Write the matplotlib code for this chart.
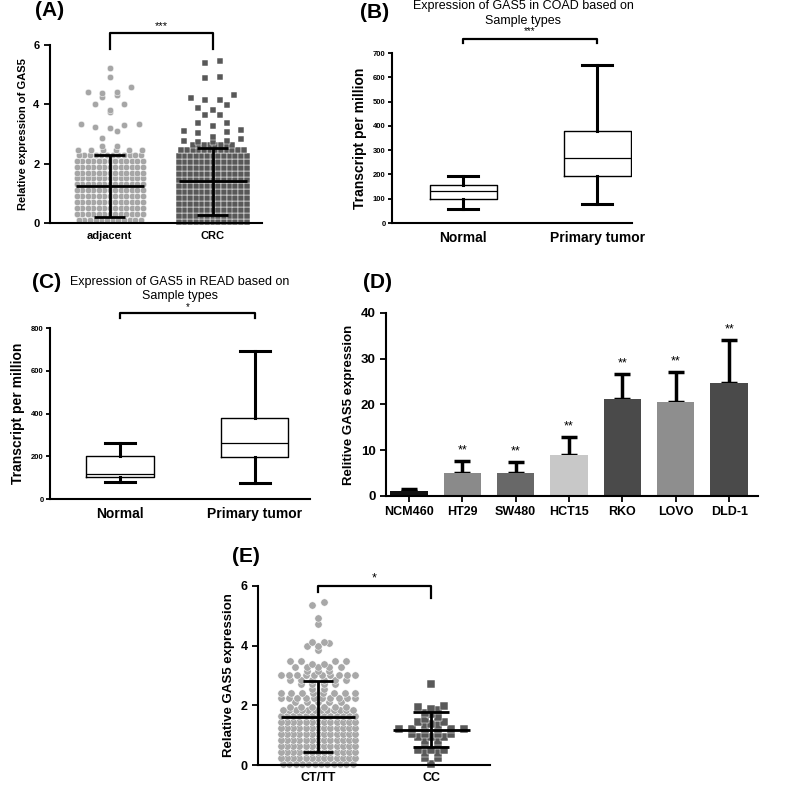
import matplotlib

matplotlib.use("Agg")

import matplotlib.pyplot as plt
import numpy as np

plt.rcParams["font.family"] = ["Liberation Sans", "DejaVu Sans"]

FIG_W, FIG_H = 800, 802

# ---- panel A: relative GAS5 expression, adjacent vs CRC ----
A_GROUPS = ["adjacent", "CRC"]
ADJ_BAND_LEVELS = [0.1, 0.3, 0.5, 0.7, 0.9, 1.1, 1.3, 1.5, 1.7, 1.9, 2.1, 2.3]
ADJ_BAND_COUNTS = [12, 13, 13, 13, 13, 13, 13, 13, 13, 13, 13, 12]
ADJ_SPARSE = [2.45, 2.45, 2.45, 2.45, 2.45, 2.45, 2.6, 2.6, 2.85, 3.1, 3.2, 3.25,
              3.3, 3.35, 3.35, 3.73, 3.8, 4.0, 4.0, 4.25, 4.3, 4.38, 4.4, 4.42,
              4.58, 4.93, 5.22]
CRC_BAND_LEVELS = [0.05, 0.25, 0.45, 0.65, 0.85, 1.05, 1.25, 1.45, 1.65, 1.85,
                   2.05, 2.25, 2.45, 2.62]
CRC_BAND_COUNTS = [13, 13, 13, 13, 13, 13, 13, 13, 13, 13, 13, 13, 12, 8]
CRC_SPARSE = [2.72, 2.72, 2.78, 2.78, 2.82, 2.9, 3.05, 3.08, 3.1, 3.13, 3.27,
              3.37, 3.37, 3.63, 3.65, 3.8, 3.87, 3.98, 4.13, 4.15, 4.22, 4.33,
              4.9, 4.93, 5.38, 5.47]
A_MEAN = [1.25, 1.40]
A_SD_LOW = [0.20, 0.27]
A_SD_HIGH = [2.30, 2.53]

# ---- panel B / C: TPM box plots ----
BOX_GROUPS = ["Normal", "Primary tumor"]
COAD_WHISLO = [58, 80]
COAD_Q1 = [100, 193]
COAD_MED = [132, 267]
COAD_Q3 = [157, 377]
COAD_WHISHI = [192, 652]
READ_WHISLO = [80, 77]
READ_Q1 = [101, 195]
READ_MED = [116, 264]
READ_Q3 = [199, 381]
READ_WHISHI = [261, 692]

# ---- panel D: cell lines ----
CELL_LINES = ["NCM460", "HT29", "SW480", "HCT15", "RKO", "LOVO", "DLD-1"]
CELL_MEAN = [1.0, 5.1, 5.0, 9.0, 21.3, 20.6, 24.6]
CELL_ERR = [0.6, 2.5, 2.4, 3.9, 5.3, 6.4, 9.6]
CELL_SIG = ["", "**", "**", "**", "**", "**", "**"]
CELL_COLORS = ["#111111", "#8a8a8a", "#686868", "#c8c8c8", "#4a4a4a", "#8e8e8e", "#4a4a4a"]

# ---- panel E: genotype ----
E_GROUPS = ["CT/TT", "CC"]
CTTT_BAND_LEVELS = [0.05, 0.25, 0.45, 0.65, 0.85, 1.05, 1.25, 1.45, 1.65, 1.85]
CTTT_BAND_COUNTS = [12, 13, 13, 13, 13, 13, 13, 13, 13, 12]
CTTT_SPARSE = [1.95, 1.95, 1.95, 1.95, 1.95, 1.95, 2.1, 2.1, 2.1, 2.1, 2.1,
               2.25, 2.25, 2.25, 2.25, 2.25, 2.25, 2.25, 2.25, 2.25, 2.25,
               2.4, 2.4, 2.4, 2.4, 2.4, 2.4, 2.4, 2.4, 2.55, 2.55,
               2.7, 2.7, 2.7, 2.7, 2.85, 2.85, 2.85, 2.85, 2.85, 2.85,
               3.02, 3.02, 3.02, 3.02, 3.02, 3.02, 3.02, 3.02, 3.02, 3.02,
               3.15, 3.15, 3.15, 3.3, 3.3, 3.3, 3.3, 3.3, 3.4, 3.4, 3.5, 3.5,
               3.5, 3.5, 3.87, 4.0, 4.0, 4.1, 4.13, 4.13, 4.73, 4.93, 5.37, 5.47]
CC_VALUES = [0.05, 0.25, 0.25, 0.4, 0.4, 0.5, 0.5, 0.5, 0.7, 0.7, 0.8, 0.8,
             0.95, 0.95, 0.95, 1.05, 1.05, 1.05, 1.05, 1.2, 1.2, 1.2, 1.2, 1.2,
             1.2, 1.35, 1.35, 1.38, 1.43, 1.45, 1.55, 1.6, 1.72, 1.75, 1.85,
             1.88, 1.95, 1.97, 2.7]
E_MEAN = [1.62, 1.18]
E_SD_LOW = [0.44, 0.61]
E_SD_HIGH = [2.80, 1.77]


def rect(left, top, right, bottom):
    return [left / FIG_W, 1 - bottom / FIG_H, (right - left) / FIG_W, (bottom - top) / FIG_H]


def prism_axes(fig, r, xlim, ylim):
    ax = fig.add_axes(rect(*r))
    ax.set_xlim(*xlim)
    ax.set_ylim(*ylim)
    for side in ("top", "right"):
        ax.spines[side].set_visible(False)
    for side in ("left", "bottom"):
        ax.spines[side].set_linewidth(1.5)
    ax.tick_params(direction="out", width=1.3, length=4)
    return ax


def swarm(ax, center, values, dx, bin_h, half, **kw):
    # rows of points grouped by value, spread symmetrically, never wider than +-half
    values = np.sort(np.asarray(values, dtype=float))
    bins = np.round(values / bin_h).astype(int)
    xs = np.zeros_like(values)
    for b in np.unique(bins):
        idx = np.where(bins == b)[0]
        n = len(idx)
        step = dx if n < 2 else min(dx, 2 * half / (n - 1))
        offs = (np.arange(n) - (n - 1) / 2) * step
        order = np.argsort(np.abs(offs), kind="stable")
        xs[idx] = center + offs[order]
    ax.scatter(xs, values, clip_on=False, edgecolors="white", linewidths=0.35,
               zorder=2, **kw)


def mean_sd(ax, pos, mean, low, high, half, cap):
    ax.hlines(mean, pos - half, pos + half, color="black", lw=2, zorder=3)
    ax.vlines(pos, low, high, color="black", lw=2, zorder=3)
    ax.hlines([low, high], pos - cap, pos + cap, color="black", lw=2, zorder=3)


def bracket(ax, x0, x1, y, yl, yr, label, ty, fs=8):
    ax.plot([x0, x0, x1, x1], [yl, y, y, yr], color="black", lw=1.6, clip_on=False)
    ax.text((x0 + x1) / 2, ty, label, ha="center", va="center", fontsize=fs, clip_on=False)


fig = plt.figure(figsize=(8, 8.02), dpi=100)

# Panel A
ax = prism_axes(fig, (50, 45, 262, 223), (-0.58, 1.48), (0, 6))
swarm(ax, 0, np.repeat(ADJ_BAND_LEVELS, ADJ_BAND_COUNTS), 0.055, 0.15, 0.32,
      s=22, marker="o", color="#a6a6a6")
swarm(ax, 0, ADJ_SPARSE, 0.14, 0.3, 0.31, s=22, marker="o", color="#a6a6a6")
swarm(ax, 1, np.repeat(CRC_BAND_LEVELS, CRC_BAND_COUNTS), 0.055, 0.15, 0.33,
      s=20, marker="s", color="#585858")
swarm(ax, 1, CRC_SPARSE, 0.14, 0.3, 0.33, s=20, marker="s", color="#585858")
for i in range(2):
    mean_sd(ax, i, A_MEAN[i], A_SD_LOW[i], A_SD_HIGH[i], 0.33, 0.15)
ax.set_xticks([0, 1], A_GROUPS, fontsize=8, fontweight="bold")
ax.set_yticks([0, 2, 4, 6])
ax.tick_params(axis="x", length=0, pad=6)
ax.tick_params(axis="y", labelsize=8)
for t in ax.get_yticklabels():
    t.set_fontweight("bold")
ax.set_ylabel("Relative expression of GAS5", fontsize=8, fontweight="bold")
bracket(ax, 0, 1, 6.4, 5.87, 5.87, "***", 6.65)


# Panels B and C
def box_panel(r, xlim, ylim, yticks, whislo, q1, med, q3, whishi, sig, by, byl, sy):
    ax = prism_axes(fig, r, xlim, ylim)
    stats = [dict(whislo=whislo[i], q1=q1[i], med=med[i], q3=q3[i], whishi=whishi[i])
             for i in range(2)]
    ax.bxp(stats, positions=[0, 1], widths=0.5, showfliers=False,
           boxprops=dict(lw=1.0), medianprops=dict(color="black", lw=0.9),
           whiskerprops=dict(lw=2.2), capprops=dict(lw=2.2), capwidths=0.22)
    ax.set_xticks([0, 1], BOX_GROUPS, fontsize=10, fontweight="bold")
    ax.set_yticks(yticks)
    ax.tick_params(axis="x", length=0, pad=6)
    ax.tick_params(axis="y", labelsize=5.5, length=3, pad=1.5)
    for t in ax.get_yticklabels():
        t.set_fontweight("bold")
    ax.set_ylabel("Transcript per million", fontsize=10, fontweight="bold")
    bracket(ax, 0, 1, by, byl, byl, sig, sy, fs=7)
    return ax


ax = box_panel((392, 53, 632, 223), (-0.53, 1.26), (0, 700), range(0, 701, 100),
               COAD_WHISLO, COAD_Q1, COAD_MED, COAD_Q3, COAD_WHISHI, "***", 757, 741, 790)
fig.text(523 / FIG_W, 1 - 6 / FIG_H, "Expression of GAS5 in COAD based on",
         ha="center", va="center", fontsize=9)
fig.text(523 / FIG_W, 1 - 21 / FIG_H, "Sample types", ha="center", va="center", fontsize=9)

ax = box_panel((50, 328, 310, 499), (-0.52, 1.41), (0, 800), range(0, 801, 200),
               READ_WHISLO, READ_Q1, READ_MED, READ_Q3, READ_WHISHI, "*", 870, 847, 900)
fig.text(180 / FIG_W, 1 - 282 / FIG_H, "Expression of GAS5 in READ based on",
         ha="center", va="center", fontsize=9)
fig.text(180 / FIG_W, 1 - 296 / FIG_H, "Sample types", ha="center", va="center", fontsize=9)

# Panel D
ax = prism_axes(fig, (386, 313, 758, 496), (-0.43, 6.54), (0, 40))
xpos = np.arange(len(CELL_LINES))
ax.bar(xpos, CELL_MEAN, width=0.7, color=CELL_COLORS, zorder=2)
ax.errorbar(xpos, CELL_MEAN, yerr=[np.zeros(len(CELL_ERR)), CELL_ERR], fmt="none",
            ecolor="black", elinewidth=2.5, capsize=6, capthick=2.5, zorder=1)
for x, m, e, s in zip(xpos, CELL_MEAN, CELL_ERR, CELL_SIG):
    ax.text(x, m + e + 1.0, s, ha="center", va="bottom", fontsize=9)
ax.set_xticks(xpos, CELL_LINES, fontsize=9, fontweight="bold")
ax.set_yticks([0, 10, 20, 30, 40])
ax.tick_params(axis="y", labelsize=9.5)
ax.tick_params(axis="x", length=4)
for t in ax.get_yticklabels():
    t.set_fontweight("bold")
ax.set_ylabel("Relitive GAS5 expression", fontsize=9.5, fontweight="bold")

# Panel E
ax = prism_axes(fig, (258, 586, 490, 765), (-0.53, 1.52), (0, 6))
swarm(ax, 0, np.repeat(CTTT_BAND_LEVELS, CTTT_BAND_COUNTS), 0.056, 0.15, 0.33,
      s=28, marker="o", color="#a8a8a8")
swarm(ax, 0, CTTT_SPARSE, 0.1, 0.15, 0.33, s=28, marker="o", color="#a8a8a8")
swarm(ax, 1, CC_VALUES, 0.115, 0.12, 0.34, s=26, marker="s", color="#595959")
mean_sd(ax, 0, E_MEAN[0], E_SD_LOW[0], E_SD_HIGH[0], 0.33, 0.13)
mean_sd(ax, 1, E_MEAN[1], E_SD_LOW[1], E_SD_HIGH[1], 0.34, 0.16)
ax.set_xticks([0, 1], E_GROUPS, fontsize=9, fontweight="bold")
ax.set_yticks([0, 2, 4, 6])
ax.tick_params(axis="x", length=0, pad=5)
ax.tick_params(axis="y", labelsize=9)
for t in ax.get_yticklabels():
    t.set_fontweight("bold")
ax.set_ylabel("Relative GAS5 expression", fontsize=9.5, fontweight="bold")
bracket(ax, 0, 1, 6.0, 5.8, 5.6, "*", 6.25, fs=9)

# Panel labels
for txt, x, y in [("(A)", 35, 11), ("(B)", 360, 12), ("(C)", 32, 283),
                  ("(D)", 363, 283), ("(E)", 232, 557)]:
    fig.text(x / FIG_W, 1 - y / FIG_H, txt, ha="left", va="center",
             fontsize=15, fontweight="bold")

fig.savefig("out.png", dpi=100)
